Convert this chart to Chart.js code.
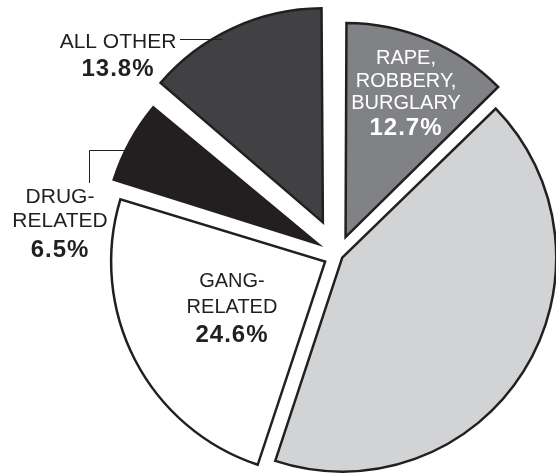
<!DOCTYPE html>
<html>
<head>
<meta charset="utf-8">
<script src="https://cdn.jsdelivr.net/npm/chart.js@4.4.0/dist/chart.umd.min.js"></script>
<style>
  html, body { margin: 0; padding: 0; background: #fff; }
  #chart { display: block; }
</style>
</head>
<body>
<canvas id="chart" width="556" height="473"></canvas>
<script>
// slices go clockwise from 12 o'clock
const categories = ['RAPE, ROBBERY, BURGLARY', '', 'GANG-RELATED', 'DRUG-RELATED', 'ALL OTHER'];
const shares = [12.7, 42.4, 24.6, 6.5, 13.8];
const labelLines = [['RAPE,', 'ROBBERY,', 'BURGLARY'], [], ['GANG-', 'RELATED'], ['DRUG-', 'RELATED'], ['ALL OTHER']];

const sliceColors = ['#808285', '#d1d3d4', '#ffffff', '#231f20', '#414042'];
const sliceOffsets = [78, 20, 58, 92, 144];

// where each label block sits: x centre, baselines of the text lines, baseline of the percent
const labelSpots = [
    {x: 406, lines: [64, 87, 109], pct: 135, color: '#ffffff', size: 20},
    null,
    {x: 232, lines: [287, 313], pct: 342, color: '#231f20', size: 20},
    {x: 60, lines: [203, 227], pct: 257, color: '#231f20', size: 21},
    {x: 118, lines: [48], pct: 76, color: '#231f20', size: 21}
];

// chart.js grows exploded arcs a bit, pull them back so all slices keep one radius
const evenRadius = {
    id: 'evenRadius',
    afterDatasetUpdate(chart, args) {
        args.meta.data.forEach(arc => {
            const off = (arc.options.offset || 0) / 4;
            const fix = 1 - Math.sin(Math.min(Math.PI, arc.circumference));
            arc.outerRadius -= off * fix;
        });
    }
};

const sliceLabels = {
    id: 'sliceLabels',
    afterDraw(chart) {
        const ctx = chart.ctx;
        ctx.save();
        ctx.textAlign = 'center';
        ctx.textBaseline = 'alphabetic';
        labelSpots.forEach((spot, i) => {
            if (!spot) return;
            ctx.fillStyle = spot.color;
            ctx.font = `${spot.size}px "Liberation Sans", Arial, sans-serif`;
            ctx.letterSpacing = '0px';
            labelLines[i].forEach((line, j) => ctx.fillText(line, spot.x, spot.lines[j]));
            ctx.font = `bold 24px "Liberation Sans", Arial, sans-serif`;
            ctx.letterSpacing = '1px';
            ctx.fillText(`${shares[i].toFixed(1)}%`, spot.x, spot.pct);
        });

        // leader lines
        ctx.strokeStyle = '#231f20';
        ctx.lineWidth = 1;
        ctx.beginPath();
        ctx.moveTo(180, 39.5);
        ctx.lineTo(222, 39.5);
        ctx.moveTo(89.5, 183);
        ctx.lineTo(89.5, 150.5);
        ctx.lineTo(138, 150.5);
        ctx.stroke();
        ctx.restore();
    }
};

const chart = new Chart(document.getElementById('chart'), {
    type: 'pie',
    data: {
        labels: categories,
        datasets: [{
            data: shares,
            backgroundColor: sliceColors,
            borderColor: '#231f20',
            borderWidth: 2.5,
            borderJoinStyle: 'miter',
            offset: sliceOffsets,
            radius: 214
        }]
    },
    options: {
        responsive: false,
        animation: false,
        events: [],
        layout: {
            padding: {left: 120, right: 0, top: 37, bottom: 0}
        },
        plugins: {
            legend: {display: false},
            tooltip: {enabled: false}
        }
    },
    plugins: [evenRadius, sliceLabels]
});
</script>
</body>
</html>
